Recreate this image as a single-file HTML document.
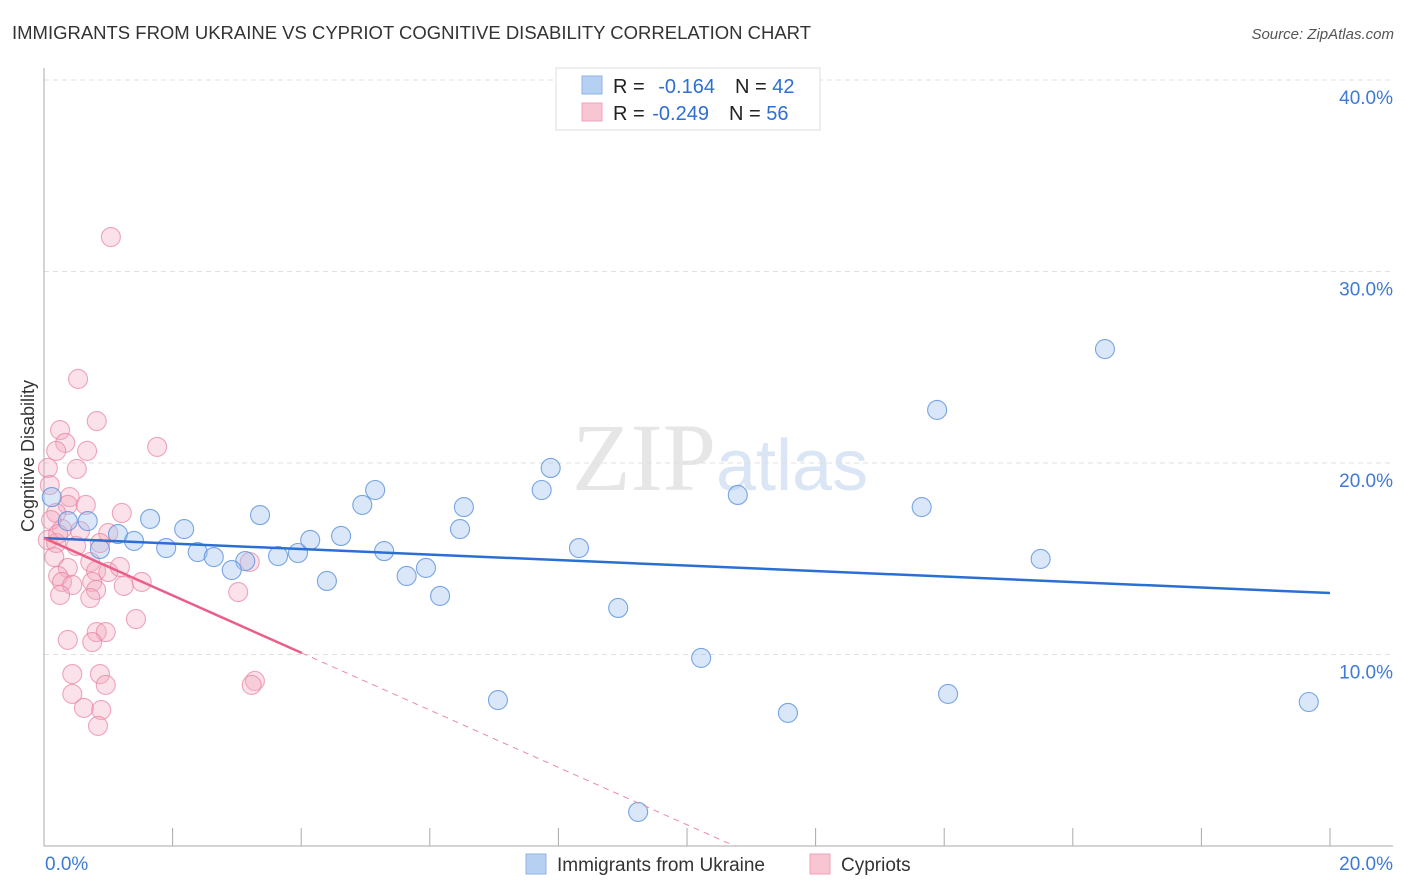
<!DOCTYPE html>
<html><head><meta charset="utf-8"><style>
body{margin:0;background:#fff;font-family:"Liberation Sans",sans-serif;}
svg{display:block}
</style></head><body>
<svg id="chart" width="1406" height="892">
<text x="12" y="39" font-size="18" fill="#333" textLength="799" lengthAdjust="spacingAndGlyphs">IMMIGRANTS FROM UKRAINE VS CYPRIOT COGNITIVE DISABILITY CORRELATION CHART</text>
<text x="1394" y="39" font-size="15" fill="#555" font-style="italic" text-anchor="end">Source: ZipAtlas.com</text>
<text x="716" y="490" font-size="96" fill="#e6e6e6" text-anchor="end" font-family="Liberation Serif,serif">ZIP</text>
<text x="716" y="490" font-size="72" fill="#dae6f5">atlas</text>
<g id="grid"></g>
<g id="axes"></g>
<g id="marks"></g>
<text transform="translate(34,456) rotate(-90)" font-size="18" fill="#333" text-anchor="middle">Cognitive Disability</text>
<g>
<rect x="556" y="68" width="264" height="62" fill="#fff" stroke="#ddd"/>
<rect x="582" y="76" width="20" height="18" fill="#b6d0f2" stroke="#8fb3e6"/>
<rect x="582" y="103" width="20" height="18" fill="#f8c5d3" stroke="#eea2b8"/>
<text x="613" y="93" font-size="20" fill="#222">R = <tspan fill="#2e6fd1" dx="8">-0.164</tspan><tspan fill="#222" dx="20">N = </tspan><tspan fill="#2e6fd1">42</tspan></text>
<text x="613" y="120" font-size="20" fill="#222">R = <tspan fill="#2e6fd1" dx="2">-0.249</tspan><tspan fill="#222" dx="20">N = </tspan><tspan fill="#2e6fd1">56</tspan></text>
</g>
<g>
<rect x="526" y="854" width="20" height="20" fill="#b6d0f2" stroke="#8fb3e6"/>
<text x="557" y="871" font-size="19" fill="#333">Immigrants from Ukraine</text>
<rect x="810" y="854" width="20" height="20" fill="#f8c5d3" stroke="#eea2b8"/>
<text x="841" y="871" font-size="19" fill="#333">Cypriots</text>
</g>
</svg>
<script>
const yTicks=[10,20,30,40];
const yTickLabels=["10.0%","20.0%","30.0%","40.0%"];
const xTickLabels=["0.0%","20.0%"];
const ukraineX=[16.5,13.89,7.88,7.74,10.79,13.65,5.15,4.95,6.53,6.47,3.36,1.65,0.68,0.37,0.12,2.18,1.15,1.40,1.90,0.87,2.39,2.64,3.13,3.64,3.95,4.14,4.62,5.29,8.32,15.50,2.92,4.40,5.64,5.94,6.16,8.93,10.22,14.06,7.06,11.57,19.67,9.24];
const ukraineY=[25.95,22.77,19.74,18.59,18.33,17.70,18.59,17.81,17.70,16.55,17.28,17.08,16.97,16.97,18.22,16.55,16.29,15.93,15.56,15.51,15.35,15.09,14.88,15.14,15.30,15.98,16.19,15.40,15.56,14.99,14.41,13.84,14.10,14.52,13.06,12.43,9.82,7.94,7.62,6.95,7.52,1.78];
const cyprusX=[1.04,0.53,0.82,1.76,0.25,0.33,0.19,0.67,0.06,0.51,0.09,0.40,0.37,0.65,0.19,1.21,0.28,0.06,0.19,0.50,0.16,1.00,0.37,0.72,0.81,0.22,0.28,0.44,0.75,0.81,1.00,1.52,1.18,0.25,0.72,1.43,3.02,3.20,0.82,0.96,0.37,0.75,0.44,0.87,0.96,0.44,3.28,3.23,0.62,0.89,0.84,0.11,0.56,0.87,1.24,0.22];
const cyprusY=[31.80,24.39,22.19,20.84,21.72,21.05,20.63,20.63,19.74,19.69,18.85,18.22,17.81,17.81,17.39,17.39,16.55,15.98,15.82,15.67,15.09,16.34,14.52,14.83,14.36,14.10,13.79,13.63,13.79,13.37,14.31,13.79,14.57,13.11,12.95,11.85,13.26,14.83,11.17,11.17,10.76,10.65,8.98,8.98,8.41,7.94,8.62,8.41,7.21,7.10,6.27,17.02,16.45,15.82,13.58,16.29];
const ukraineTrend=[16.08,13.21];
const cyprusTrend=[16.08,-1.497];

const NS="http://www.w3.org/2000/svg";
const X=v=>44+v/20*1286, Y=v=>846-v*19.15;
function mk(tag,attrs,parent){const e=document.createElementNS(NS,tag);for(const k in attrs)e.setAttribute(k,attrs[k]);document.getElementById(parent).appendChild(e);return e;}
yTicks.forEach((t,i)=>{
  const g=mk('line',{x1:44,x2:1393,y1:Y(t),y2:Y(t),stroke:'#e0e0e0','stroke-dasharray':'5,4'},'grid');
  
  
  const l=mk('text',{x:1393,y:Y(t)+24,'font-size':19,fill:'#3d7ad6','text-anchor':'end'},'axes');
  l.textContent=yTickLabels[i];
  
  
});
let a=mk('line',{x1:44,x2:44,y1:68,y2:846,stroke:'#aaa'},'axes');


a=mk('line',{x1:44,x2:1393,y1:846,y2:846,stroke:'#aaa'},'axes');


for(let i=1;i<=10;i++){const t=mk('line',{x1:X(i*2),x2:X(i*2),y1:828,y2:846,stroke:'#aaa'},'axes');
  
  }
[0,20].forEach((v,i)=>{const t=mk('text',{x:i?1393:45,y:870,'font-size':19,fill:'#3d7ad6','text-anchor':i?'end':'start'},'axes');t.textContent=xTickLabels[i];
  
  });
cyprusX.forEach((x,i)=>{const c=mk('circle',{cx:X(x),cy:Y(cyprusY[i]),r:9.5,fill:'rgba(244,170,192,0.35)',stroke:'rgba(232,130,160,0.7)','stroke-width':1.1},'marks');
  
  });
ukraineX.forEach((x,i)=>{const c=mk('circle',{cx:X(x),cy:Y(ukraineY[i]),r:9.5,fill:'rgba(160,195,240,0.4)',stroke:'rgba(90,145,220,0.8)','stroke-width':1.1},'marks');
  
  });
let l=mk('line',{x1:X(0),y1:Y(ukraineTrend[0]),x2:X(20),y2:Y(ukraineTrend[1]),stroke:'#2b6fd4','stroke-width':2.5},'marks');


const xe=4.01, xz=-cyprusTrend[0]/cyprusTrend[1];
l=mk('line',{x1:X(0),y1:Y(cyprusTrend[0]),x2:X(xe),y2:Y(cyprusTrend[0]+cyprusTrend[1]*xe),stroke:'#e8608a','stroke-width':2.5},'marks');


l=mk('line',{x1:X(xe),y1:Y(cyprusTrend[0]+cyprusTrend[1]*xe),x2:X(xz),y2:Y(0),stroke:'#eb8aa8','stroke-width':1,'stroke-dasharray':'6,5'},'marks');


</script>
</body></html>
